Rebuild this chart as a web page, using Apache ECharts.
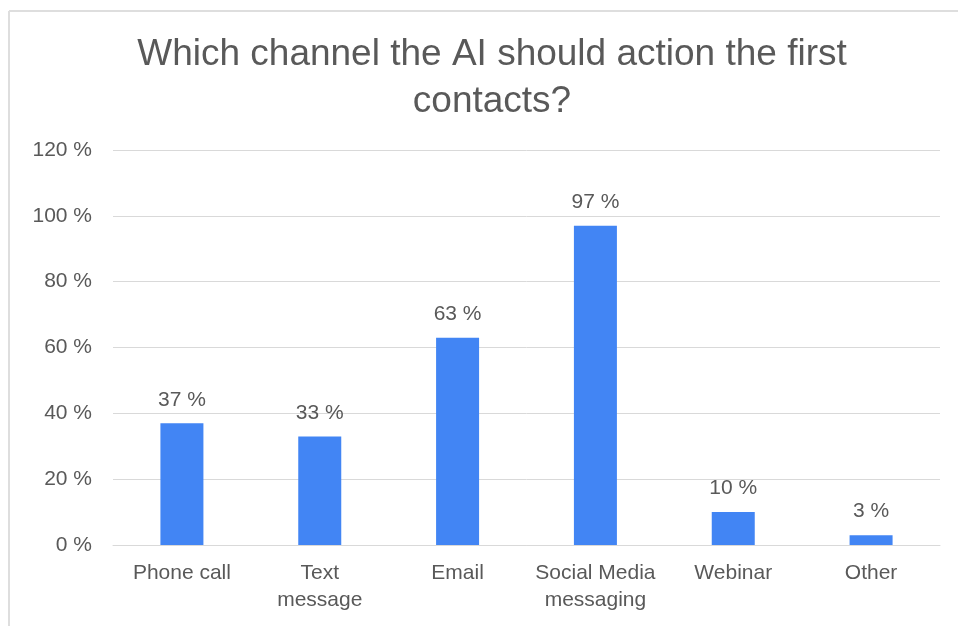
<!DOCTYPE html>
<html>
<head>
<meta charset="utf-8">
<script src="https://cdn.jsdelivr.net/npm/echarts@6/dist/echarts.min.js"></script>
<style>
  html, body { margin: 0; padding: 0; background: #ffffff; }
  #chart { width: 958px; height: 626px; }
</style>
</head>
<body>
<div id="chart"></div>
<script>
// Survey answers: preferred channel for the AI's first contact
const chartTitle = 'Which channel the AI should action the first\ncontacts?';
const categories = ['Phone call', 'Text\nmessage', 'Email', 'Social Media\nmessaging', 'Webinar', 'Other'];
const shares = [37, 33, 63, 97, 10, 3];
const yTicks = [0, 20, 40, 60, 80, 100, 120];

const textColor = '#595959';
const gridColor = '#d9d9d9';
const font = 'Liberation Sans, Arial, Helvetica, sans-serif';

const chart = echarts.init(document.getElementById('chart'), null, { renderer: 'canvas' });

chart.setOption({
  backgroundColor: '#ffffff',
  animation: false,
  title: {
    text: chartTitle,
    left: 487,
    top: 26,
    textAlign: 'center',
    textStyle: {
      color: textColor,
      fontSize: 37,
      fontWeight: 'normal',
      fontFamily: font,
      lineHeight: 47
    }
  },
  graphic: [
    {
      type: 'line',
      shape: { x1: 9, y1: 11, x2: 958, y2: 11 },
      style: { stroke: '#dedede', lineWidth: 2 }
    },
    {
      type: 'line',
      shape: { x1: 9, y1: 11, x2: 9, y2: 626 },
      style: { stroke: '#dedede', lineWidth: 2 }
    }
  ],
  grid: {
    left: 113,
    right: 18,
    top: 150,
    bottom: 81,
    containLabel: false
  },
  xAxis: {
    type: 'category',
    data: categories,
    axisTick: { show: false },
    axisLine: { show: true, lineStyle: { color: gridColor, width: 1 } },
    axisLabel: {
      color: textColor,
      fontSize: 21,
      fontFamily: font,
      lineHeight: 27,
      margin: 15,
      interval: 0
    }
  },
  yAxis: {
    type: 'value',
    min: yTicks[0],
    max: yTicks[yTicks.length - 1],
    interval: yTicks[1] - yTicks[0],
    axisLine: { show: false },
    axisTick: { show: false },
    splitLine: { lineStyle: { color: gridColor, width: 1 } },
    axisLabel: {
      color: textColor,
      fontSize: 21,
      fontFamily: font,
      margin: 21,
      formatter: v => v + ' %'
    }
  },
  series: [
    {
      type: 'bar',
      data: shares,
      barWidth: 43,
      itemStyle: { color: '#4285f4' },
      label: {
        show: true,
        position: 'top',
        distance: 13,
        color: textColor,
        fontSize: 21,
        fontFamily: font,
        formatter: p => p.value + ' %'
      }
    }
  ]
});
</script>
</body>
</html>
